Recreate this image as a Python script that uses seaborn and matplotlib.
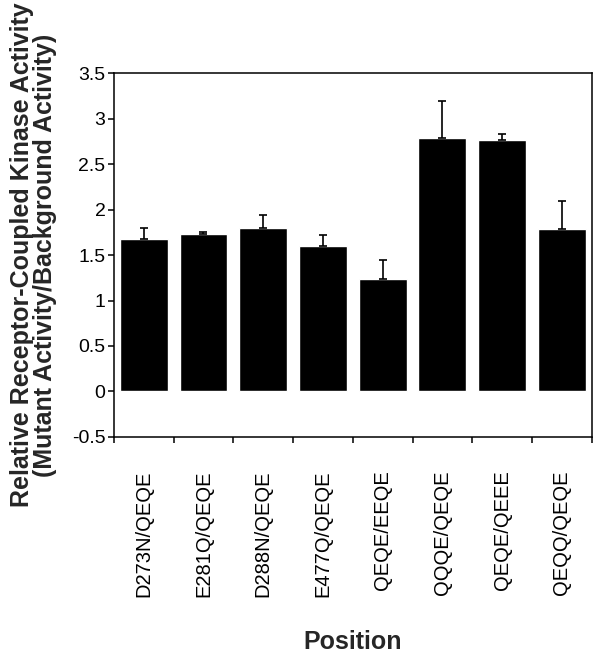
import matplotlib

matplotlib.use("Agg")
import matplotlib.pyplot as plt
import numpy as np
import pandas as pd
import seaborn as sns
from matplotlib import ticker

# values
positions = [
    "D273N/QEQE",
    "E281Q/QEQE",
    "D288N/QEQE",
    "E477Q/QEQE",
    "QEQE/EEQE",
    "QQQE/QEQE",
    "QEQE/QEEE",
    "QEQQ/QEQE",
]
activity = [1.68, 1.73, 1.80, 1.60, 1.24, 2.79, 2.77, 1.79]
error = [0.12, 0.02, 0.14, 0.12, 0.20, 0.40, 0.06, 0.30]
y_ticks = [-0.5, 0, 0.5, 1, 1.5, 2, 2.5, 3, 3.5]


def main() -> None:
    sns.set_theme(style="white")
    plt.rcParams["font.family"] = ["Liberation Sans", "DejaVu Sans"]

    df = pd.DataFrame({"position": positions, "activity": activity, "error": error})

    fig = plt.figure(figsize=(6.02, 6.59), dpi=100)
    ax = fig.add_axes([0.189, 0.337, 0.794, 0.552])

    sns.barplot(
        data=df,
        x="position",
        y="activity",
        order=positions,
        color="black",
        saturation=1,
        width=0.8,
        errorbar=None,
        ax=ax,
    )
    ax.errorbar(
        np.arange(len(positions)),
        df["activity"],
        yerr=[np.zeros(len(positions)), df["error"]],
        fmt="none",
        ecolor="black",
        elinewidth=1.2,
        capsize=3,
        capthick=1.2,
    )

    ax.set_xlim(-0.5, len(positions) - 0.5)
    ax.set_ylim(-0.5, 3.5)
    ax.yaxis.set_major_locator(ticker.FixedLocator(y_ticks))
    ax.yaxis.set_major_formatter(ticker.FuncFormatter(lambda v, _: f"{v:g}"))
    ax.xaxis.set_minor_locator(ticker.FixedLocator(np.arange(-0.5, len(positions), 1.0)))

    for side in ["left", "right", "top", "bottom"]:
        ax.spines[side].set_visible(True)
        ax.spines[side].set_color("black")
        ax.spines[side].set_linewidth(1.1)

    ax.tick_params(axis="y", which="major", direction="out", length=4, width=1.1,
                   left=True, labelsize=14, pad=2, colors="black")
    ax.tick_params(axis="x", which="major", length=0, pad=24, labelsize=14.5,
                   labelrotation=90, colors="black")
    ax.tick_params(axis="x", which="minor", direction="out", length=4, width=1.1,
                   bottom=True, colors="black")

    ax.set_xlabel("Position", fontsize=18, fontweight="bold", labelpad=24)
    ax.set_ylabel(
        "Relative Receptor-Coupled Kinase Activity\n(Mutant Activity/Background Activity)",
        fontsize=18,
        fontweight="bold",
        linespacing=0.9,
        labelpad=11,
    )

    fig.savefig("out.png", dpi=100)
    plt.close(fig)


if __name__ == "__main__":
    main()
